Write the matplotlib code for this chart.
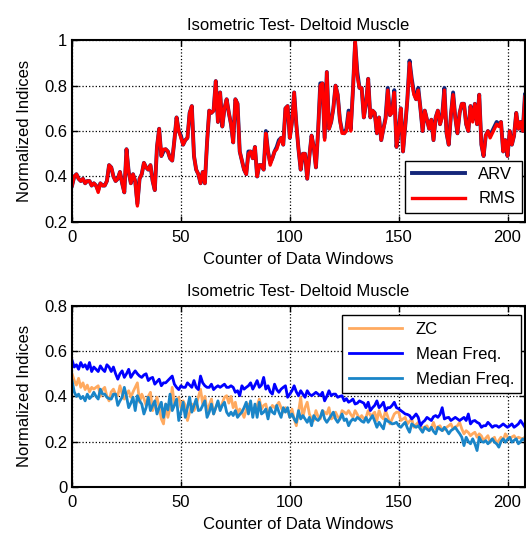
import matplotlib
matplotlib.use("Agg")
import matplotlib.pyplot as plt
import numpy as np
from matplotlib.ticker import FormatStrFormatter

plt.rcParams['font.family'] = ['Liberation Sans', 'DejaVu Sans']
plt.rcParams['font.size'] = 12

# top panel: normalized amplitude indices
rms = [0.36, 0.40, 0.41, 0.39, 0.38, 0.39, 0.37, 0.38, 0.38, 0.36,
       0.37, 0.36, 0.33, 0.37, 0.36, 0.36, 0.38, 0.45, 0.44, 0.40,
       0.38, 0.39, 0.42, 0.37, 0.33, 0.52, 0.42, 0.37, 0.41, 0.38,
       0.27, 0.39, 0.41, 0.46, 0.44, 0.43, 0.45, 0.38, 0.34, 0.53,
       0.61, 0.49, 0.52, 0.52, 0.51, 0.48, 0.47, 0.56, 0.66, 0.60,
       0.57, 0.54, 0.56, 0.57, 0.68, 0.71, 0.49, 0.43, 0.41, 0.37,
       0.42, 0.37, 0.55, 0.69, 0.68, 0.69, 0.82, 0.64, 0.77, 0.62,
       0.70, 0.74, 0.68, 0.63, 0.55, 0.74, 0.72, 0.51, 0.47, 0.43,
       0.41, 0.50, 0.51, 0.48, 0.53, 0.40, 0.45, 0.45, 0.43, 0.59,
       0.51, 0.45, 0.48, 0.51, 0.52, 0.55, 0.57, 0.54, 0.70, 0.71,
       0.57, 0.64, 0.77, 0.63, 0.52, 0.43, 0.50, 0.50, 0.39, 0.49,
       0.58, 0.53, 0.44, 0.60, 0.80, 0.81, 0.56, 0.86, 0.61, 0.64,
       0.70, 0.80, 0.76, 0.65, 0.59, 0.59, 0.60, 0.68, 0.60, 0.78,
       1.00, 0.84, 0.79, 0.79, 0.66, 0.72, 0.83, 0.66, 0.69, 0.68,
       0.59, 0.66, 0.56, 0.61, 0.65, 0.78, 0.67, 0.68, 0.77, 0.53,
       0.60, 0.70, 0.51, 0.62, 0.74, 0.90, 0.82, 0.76, 0.74, 0.78,
       0.70, 0.60, 0.69, 0.65, 0.61, 0.65, 0.56, 0.66, 0.69, 0.63,
       0.66, 0.78, 0.59, 0.54, 0.67, 0.76, 0.66, 0.59, 0.68, 0.72,
       0.72, 0.63, 0.60, 0.71, 0.64, 0.72, 0.63, 0.76, 0.54, 0.49,
       0.58, 0.60, 0.57, 0.59, 0.61, 0.63, 0.62, 0.64, 0.51, 0.56,
       0.49, 0.60, 0.54, 0.58, 0.68, 0.61, 0.64, 0.60, 0.75]

arv = [0.36, 0.40, 0.41, 0.39, 0.38, 0.39, 0.37, 0.38, 0.38, 0.36,
       0.37, 0.36, 0.34, 0.37, 0.36, 0.36, 0.38, 0.45, 0.44, 0.40,
       0.38, 0.39, 0.42, 0.37, 0.33, 0.52, 0.42, 0.37, 0.41, 0.38,
       0.28, 0.39, 0.41, 0.46, 0.44, 0.43, 0.45, 0.38, 0.34, 0.53,
       0.61, 0.49, 0.51, 0.52, 0.51, 0.48, 0.47, 0.56, 0.66, 0.60,
       0.58, 0.54, 0.56, 0.57, 0.68, 0.71, 0.49, 0.43, 0.41, 0.37,
       0.42, 0.37, 0.55, 0.69, 0.68, 0.69, 0.82, 0.64, 0.77, 0.62,
       0.70, 0.74, 0.68, 0.63, 0.55, 0.74, 0.72, 0.51, 0.47, 0.43,
       0.41, 0.51, 0.51, 0.48, 0.53, 0.40, 0.45, 0.45, 0.43, 0.60,
       0.51, 0.46, 0.48, 0.51, 0.53, 0.56, 0.57, 0.54, 0.70, 0.71,
       0.57, 0.64, 0.77, 0.63, 0.52, 0.43, 0.50, 0.50, 0.39, 0.49,
       0.58, 0.53, 0.44, 0.60, 0.81, 0.81, 0.57, 0.86, 0.61, 0.64,
       0.70, 0.80, 0.76, 0.65, 0.60, 0.59, 0.61, 0.69, 0.61, 0.78,
       0.99, 0.86, 0.79, 0.79, 0.66, 0.72, 0.83, 0.66, 0.69, 0.68,
       0.59, 0.66, 0.56, 0.61, 0.66, 0.79, 0.67, 0.69, 0.78, 0.53,
       0.60, 0.70, 0.51, 0.62, 0.74, 0.91, 0.83, 0.77, 0.74, 0.79,
       0.70, 0.60, 0.69, 0.65, 0.61, 0.65, 0.56, 0.66, 0.69, 0.63,
       0.67, 0.79, 0.59, 0.54, 0.67, 0.77, 0.66, 0.59, 0.68, 0.72,
       0.72, 0.63, 0.60, 0.71, 0.65, 0.72, 0.63, 0.76, 0.54, 0.49,
       0.58, 0.60, 0.58, 0.60, 0.62, 0.64, 0.63, 0.64, 0.51, 0.56,
       0.49, 0.60, 0.54, 0.58, 0.68, 0.61, 0.64, 0.60, 0.76]

# bottom panel: normalized frequency indices
zc = [0.50, 0.47, 0.45, 0.48, 0.44, 0.46, 0.43, 0.45, 0.42, 0.44,
      0.432, 0.44, 0.447, 0.40, 0.43, 0.44, 0.40, 0.38, 0.42, 0.432,
      0.41, 0.403, 0.447, 0.41, 0.388, 0.41, 0.425, 0.396, 0.42, 0.44,
      0.46, 0.374, 0.41, 0.39, 0.36, 0.40, 0.418, 0.337, 0.37, 0.396,
      0.35, 0.30, 0.278, 0.366, 0.307, 0.35, 0.44, 0.366, 0.38, 0.396,
      0.35, 0.38, 0.36, 0.293, 0.33, 0.366, 0.337, 0.36, 0.396, 0.432,
      0.366, 0.40, 0.337, 0.36, 0.388, 0.322, 0.35, 0.374, 0.344, 0.37,
      0.396, 0.403, 0.37, 0.40, 0.35, 0.374, 0.322, 0.344, 0.33, 0.307,
      0.34, 0.366, 0.35, 0.34, 0.33, 0.36, 0.388, 0.344, 0.36, 0.366,
      0.322, 0.34, 0.36, 0.35, 0.36, 0.374, 0.35, 0.33, 0.35, 0.34,
      0.307, 0.344, 0.30, 0.27, 0.33, 0.396, 0.307, 0.35, 0.374, 0.322,
      0.30, 0.293, 0.337, 0.31, 0.30, 0.337, 0.33, 0.322, 0.35, 0.30,
      0.307, 0.33, 0.31, 0.30, 0.337, 0.33, 0.322, 0.337, 0.32, 0.307,
      0.337, 0.32, 0.30, 0.315, 0.30, 0.307, 0.337, 0.315, 0.32, 0.33,
      0.293, 0.337, 0.31, 0.30, 0.337, 0.31, 0.278, 0.30, 0.322, 0.33,
      0.33, 0.293, 0.30, 0.307, 0.278, 0.29, 0.30, 0.263, 0.275, 0.285,
      0.27, 0.256, 0.265, 0.27, 0.248, 0.26, 0.285, 0.256, 0.265, 0.27,
      0.248, 0.255, 0.263, 0.27, 0.278, 0.256, 0.265, 0.27, 0.285, 0.256,
      0.234, 0.248, 0.24, 0.226, 0.235, 0.241, 0.219, 0.234, 0.225, 0.204,
      0.215, 0.226, 0.197, 0.21, 0.219, 0.19, 0.205, 0.219, 0.204, 0.234,
      0.22, 0.212, 0.22, 0.226, 0.212, 0.219, 0.215, 0.212, 0.22]

mean_freq = [0.56, 0.53, 0.54, 0.52, 0.55, 0.53, 0.54, 0.52, 0.55, 0.51,
             0.53, 0.52, 0.51, 0.535, 0.52, 0.51, 0.54, 0.53, 0.51, 0.53,
             0.50, 0.476, 0.50, 0.513, 0.484, 0.50, 0.52, 0.484, 0.50, 0.513,
             0.50, 0.49, 0.484, 0.495, 0.50, 0.47, 0.48, 0.484, 0.454, 0.465,
             0.476, 0.447, 0.46, 0.46, 0.47, 0.48, 0.49, 0.454, 0.44, 0.43,
             0.447, 0.44, 0.44, 0.46, 0.45, 0.44, 0.47, 0.44, 0.43, 0.49,
             0.46, 0.447, 0.44, 0.44, 0.454, 0.43, 0.44, 0.447, 0.44, 0.447,
             0.454, 0.44, 0.44, 0.447, 0.44, 0.418, 0.425, 0.403, 0.447, 0.432,
             0.44, 0.447, 0.46, 0.432, 0.45, 0.47, 0.44, 0.45, 0.484, 0.432,
             0.447, 0.42, 0.41, 0.454, 0.43, 0.418, 0.432, 0.44, 0.447, 0.396,
             0.41, 0.425, 0.447, 0.42, 0.403, 0.425, 0.41, 0.396, 0.425, 0.41,
             0.403, 0.41, 0.418, 0.41, 0.403, 0.418, 0.38, 0.40, 0.425, 0.403,
             0.41, 0.41, 0.396, 0.40, 0.403, 0.38, 0.39, 0.374, 0.38, 0.388,
             0.366, 0.37, 0.38, 0.375, 0.37, 0.35, 0.374, 0.337, 0.35, 0.36,
             0.38, 0.35, 0.36, 0.374, 0.337, 0.35, 0.35, 0.36, 0.374, 0.35,
             0.345, 0.337, 0.33, 0.322, 0.32, 0.315, 0.30, 0.31, 0.322, 0.307,
             0.27, 0.285, 0.293, 0.307, 0.30, 0.293, 0.31, 0.315, 0.307, 0.32,
             0.35, 0.30, 0.305, 0.307, 0.293, 0.30, 0.307, 0.30, 0.293, 0.30,
             0.307, 0.293, 0.322, 0.278, 0.29, 0.293, 0.285, 0.28, 0.263, 0.27,
             0.27, 0.285, 0.275, 0.263, 0.27, 0.27, 0.263, 0.27, 0.278, 0.27,
             0.263, 0.27, 0.278, 0.263, 0.27, 0.278, 0.293, 0.278, 0.263]

median_freq = [0.47, 0.42, 0.40, 0.41, 0.39, 0.40, 0.38, 0.41, 0.39, 0.40,
               0.418, 0.40, 0.388, 0.432, 0.41, 0.41, 0.396, 0.39, 0.388, 0.41,
               0.41, 0.36, 0.38, 0.396, 0.44, 0.40, 0.35, 0.37, 0.396, 0.337,
               0.403, 0.38, 0.366, 0.322, 0.35, 0.396, 0.337, 0.36, 0.38, 0.322,
               0.35, 0.374, 0.307, 0.366, 0.34, 0.41, 0.337, 0.36, 0.388, 0.293,
               0.33, 0.374, 0.307, 0.35, 0.396, 0.33, 0.36, 0.388, 0.337, 0.34,
               0.36, 0.38, 0.307, 0.33, 0.366, 0.322, 0.35, 0.38, 0.337, 0.36,
               0.374, 0.33, 0.315, 0.33, 0.315, 0.337, 0.307, 0.32, 0.33, 0.35,
               0.374, 0.322, 0.38, 0.307, 0.366, 0.307, 0.374, 0.322, 0.33, 0.344,
               0.30, 0.35, 0.33, 0.322, 0.36, 0.33, 0.307, 0.35, 0.33, 0.35,
               0.307, 0.322, 0.30, 0.285, 0.337, 0.30, 0.315, 0.30, 0.285, 0.307,
               0.27, 0.315, 0.30, 0.293, 0.307, 0.337, 0.30, 0.285, 0.30, 0.315,
               0.33, 0.30, 0.285, 0.30, 0.322, 0.293, 0.30, 0.27, 0.29, 0.30,
               0.293, 0.307, 0.30, 0.29, 0.285, 0.307, 0.285, 0.30, 0.315, 0.29,
               0.263, 0.285, 0.27, 0.256, 0.30, 0.29, 0.285, 0.278, 0.28, 0.285,
               0.27, 0.263, 0.275, 0.285, 0.26, 0.241, 0.278, 0.27, 0.263, 0.27,
               0.255, 0.241, 0.263, 0.255, 0.248, 0.263, 0.245, 0.234, 0.263, 0.255,
               0.248, 0.263, 0.25, 0.234, 0.248, 0.255, 0.263, 0.248, 0.235, 0.219,
               0.182, 0.219, 0.20, 0.19, 0.212, 0.19, 0.16, 0.219, 0.20, 0.197,
               0.204, 0.19, 0.20, 0.212, 0.197, 0.19, 0.175, 0.20, 0.212, 0.197,
               0.21, 0.219, 0.197, 0.205, 0.212, 0.19, 0.20, 0.212, 0.205]

title = 'Isometric Test- Deltoid Muscle'
xlabel = 'Counter of Data Windows'
ylabel = 'Normalized Indices'

fig = plt.figure(figsize=(5.26, 5.36), dpi=100)
ax1 = fig.add_axes([0.137, 0.586, 0.861, 0.339])
ax2 = fig.add_axes([0.137, 0.092, 0.861, 0.337])

x = np.arange(len(rms))
ax1.plot(x, arv, color='#14267a', lw=2.8, label='ARV')
ax1.plot(x, rms, color='#ff0000', lw=2.4, label='RMS')
ax1.set_ylim(0.2, 1.0)
ax1.set_yticks([0.2, 0.4, 0.6, 0.8, 1.0])
ax1.legend(loc='lower right', bbox_to_anchor=(0.993, 0.049), borderaxespad=0,
           fancybox=False, edgecolor='black', framealpha=1, handlelength=3.2,
           labelspacing=0.55)

xb = np.arange(len(zc))
ax2.plot(xb, zc, color='#ffaa60', lw=2.0, label='ZC')
ax2.plot(xb, mean_freq, color='#0000ff', lw=2.0, label='Mean Freq.')
ax2.plot(xb, median_freq, color='#1a85c8', lw=2.0, label='Median Freq.')
ax2.set_ylim(0, 0.8)
ax2.set_yticks([0, 0.2, 0.4, 0.6, 0.8])
ax2.legend(loc='upper right', bbox_to_anchor=(0.991, 0.95), borderaxespad=0,
           fancybox=False, edgecolor='black', framealpha=1, handlelength=3.2,
           labelspacing=0.6)

for ax in (ax1, ax2):
    ax.set_xlim(0, 208)
    ax.set_xticks([0, 50, 100, 150, 200])
    ax.yaxis.set_major_formatter(FormatStrFormatter('%g'))
    ax.grid(True, color='black', linestyle=':', linewidth=0.9)
    ax.tick_params(direction='in', top=True, right=True, length=4, width=1)
    ax.tick_params(axis='x', pad=6)
    ax.tick_params(axis='y', pad=3.5)
    for s in ax.spines.values():
        s.set_linewidth(1.5)
    ax.set_title(title, fontsize=12, pad=7.5)
    ax.set_xlabel(xlabel, labelpad=5)
    ax.set_ylabel(ylabel, labelpad=9)

fig.savefig('out.png', dpi=100)
